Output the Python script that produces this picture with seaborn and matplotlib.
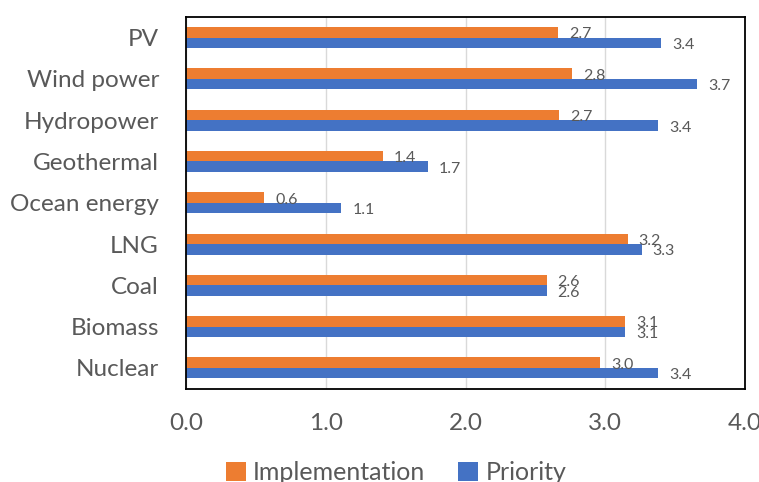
import matplotlib
matplotlib.use("Agg")
import matplotlib.pyplot as plt
import seaborn as sns
import pandas as pd
from matplotlib.patches import Patch

categories = ["PV", "Wind power", "Hydropower", "Geothermal", "Ocean energy",
              "LNG", "Coal", "Biomass", "Nuclear"]
implementation = [2.66, 2.76, 2.67, 1.41, 0.56, 3.16, 2.58, 3.14, 2.96]
priority = [3.40, 3.66, 3.38, 1.73, 1.11, 3.26, 2.58, 3.14, 3.38]
series_names = ["Implementation", "Priority"]
x_ticks = [0.0, 1.0, 2.0, 3.0, 4.0]

sns.set_theme(style="white")
plt.rcParams["font.family"] = ["Lato", "DejaVu Sans"]

df = pd.DataFrame({
    "Category": categories * 2,
    "Value": implementation + priority,
    "Series": [series_names[0]] * len(categories) + [series_names[1]] * len(categories),
})

colors = {"Implementation": "#ED7D31", "Priority": "#4472C4"}
text_color = "#595959"

fig = plt.figure(figsize=(7.59, 4.82), dpi=100)
ax = fig.add_axes([186 / 759, 1 - 388.5 / 482, (745 - 186) / 759, (388.5 - 17) / 482])

sns.barplot(data=df, y="Category", x="Value", hue="Series", order=categories,
            hue_order=series_names, palette=colors, orient="h", width=0.51,
            gap=0, dodge=True, ax=ax, legend=False, saturation=1, linewidth=0)

for cont in ax.containers:
    labels = ax.bar_label(cont, labels=[f"{b.get_width():.1f}" for b in cont],
                          padding=8, fontsize=11.5, color=text_color)
    for t in labels:
        t.set_va("center")
        x0, y0 = t.xyann
        t.xyann = (x0, y0 - 1.5)

ax.set_xlim(0, 4)
ax.set_ylim(8.5, -0.5)
ax.set_xticks(x_ticks)
ax.set_xticklabels([f"{t:.1f}" for t in x_ticks])
ax.set_xlabel("")
ax.set_ylabel("")
ax.xaxis.grid(True, color="#d9d9d9", linewidth=1)
ax.yaxis.grid(False)
ax.set_axisbelow(True)
ax.tick_params(axis="y", length=0, pad=19.5, labelsize=17.5, labelcolor=text_color)
ax.tick_params(axis="x", length=0, pad=18, labelsize=17.5, labelcolor=text_color)
for s in ax.spines.values():
    s.set_visible(True)
    s.set_color("black")
    s.set_linewidth(1.3)

handles = [Patch(facecolor=colors[n], edgecolor="none", label=n) for n in series_names]
fig.legend(handles=handles, loc="center", bbox_to_anchor=(396 / 759, 9 / 482),
           ncol=2, frameon=False, fontsize=18, handlelength=0.8, handleheight=0.8,
           handletextpad=0.3, columnspacing=1.3, labelcolor=text_color)

fig.savefig("out.png", dpi=100)
